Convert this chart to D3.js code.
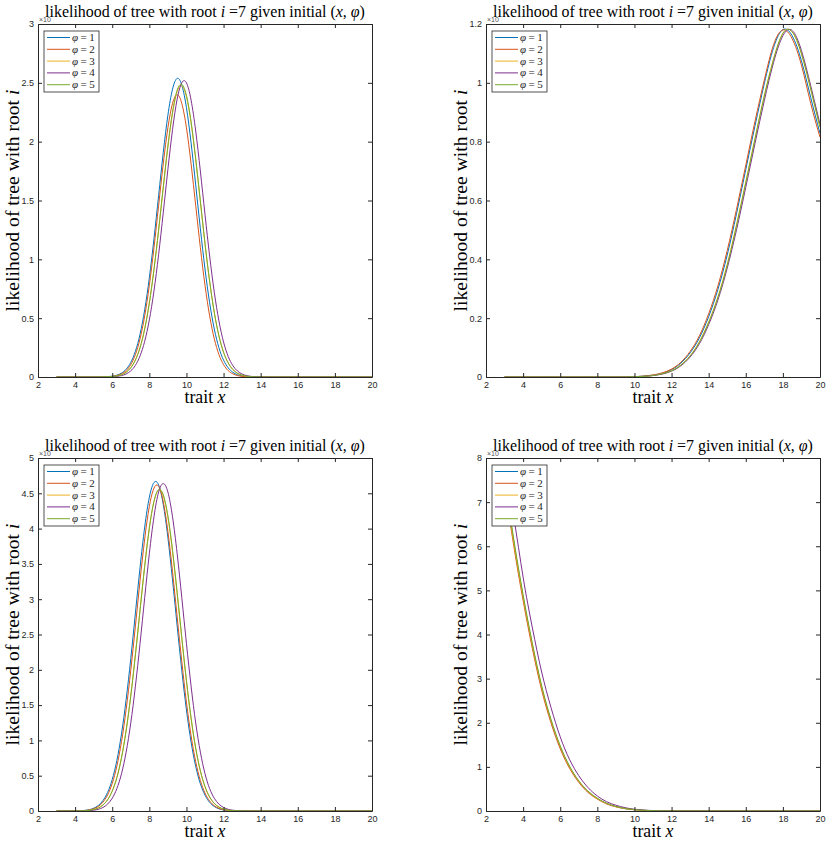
<!DOCTYPE html>
<html>
<head>
<meta charset="utf-8">
<script src="https://cdn.jsdelivr.net/npm/d3@7"></script>
<style>
  body { margin: 0; background: #fff; }
</style>
</head>
<body>
<div id="chart-container"></div>
<script>
// Shared x grid (trait x) for every curve
const xs = [3, 3.5, 4, 4.5, 5, 5.5, 6, 6.5, 7, 7.5, 8, 8.5, 9, 9.5, 10, 10.5, 11, 11.5,
    12, 12.5, 13, 13.5, 14, 14.5, 15, 15.5, 16, 16.5, 17, 17.5, 18, 18.5, 19, 19.5, 20];

const phiLabels = ["1", "2", "3", "4", "5"];
const colors = ["#0072BD", "#D95319", "#EDB120", "#7E2F8E", "#77AC30"];
const xTicks = [2, 4, 6, 8, 10, 12, 14, 16, 18, 20];

// Top-left panel
const tlPhi1 = [0, 0, 0, 0, 0, 0.001, 0.007, 0.033, 0.124, 0.364, 0.843, 1.541, 2.225, 2.538, 2.289, 1.631, 0.918, 0.408, 0.143, 0.040, 0.009, 0.002, 0, 0, 0, 0, 0, 0, 0, 0, 0, 0, 0, 0, 0];
const tlPhi2 = [0, 0, 0, 0, 0, 0.001, 0.005, 0.027, 0.105, 0.325, 0.779, 1.456, 2.118, 2.400, 2.118, 1.456, 0.779, 0.325, 0.105, 0.027, 0.005, 0.001, 0, 0, 0, 0, 0, 0, 0, 0, 0, 0, 0, 0, 0];
const tlPhi3 = [0, 0, 0, 0, 0, 0.001, 0.004, 0.020, 0.080, 0.252, 0.630, 1.248, 1.955, 2.425, 2.380, 1.845, 1.130, 0.548, 0.210, 0.064, 0.015, 0.003, 0, 0, 0, 0, 0, 0, 0, 0, 0, 0, 0, 0, 0];
const tlPhi4 = [0, 0, 0, 0, 0, 0, 0.002, 0.012, 0.052, 0.179, 0.485, 1.040, 1.764, 2.362, 2.500, 2.090, 1.381, 0.721, 0.297, 0.097, 0.025, 0.005, 0.001, 0, 0, 0, 0, 0, 0, 0, 0, 0, 0, 0, 0];
const tlPhi5 = [0, 0, 0, 0, 0, 0.001, 0.004, 0.019, 0.078, 0.249, 0.628, 1.249, 1.963, 2.438, 2.393, 1.855, 1.137, 0.550, 0.210, 0.064, 0.015, 0.003, 0, 0, 0, 0, 0, 0, 0, 0, 0, 0, 0, 0, 0];
const tlTicks = [0, 0.5, 1, 1.5, 2, 2.5, 3];

// Top-right panel
const trPhi1 = [0, 0, 0, 0, 0, 0, 0, 0, 0, 0, 0, 0, 0, 0, 0.001, 0.003, 0.006, 0.013, 0.025, 0.047, 0.082, 0.133, 0.205, 0.298, 0.415, 0.555, 0.705, 0.855, 0.998, 1.12, 1.181, 1.16, 1.075, 0.95, 0.828];
const trPhi2 = [0, 0, 0, 0, 0, 0, 0, 0, 0, 0, 0, 0, 0, 0, 0.001, 0.003, 0.007, 0.014, 0.027, 0.05, 0.087, 0.14, 0.215, 0.31, 0.43, 0.57, 0.72, 0.87, 1.01, 1.13, 1.18, 1.15, 1.06, 0.93, 0.815];
const trPhi3 = [0, 0, 0, 0, 0, 0, 0, 0, 0, 0, 0, 0, 0, 0, 0.001, 0.002, 0.005, 0.011, 0.021, 0.041, 0.072, 0.12, 0.187, 0.273, 0.383, 0.517, 0.663, 0.812, 0.957, 1.082, 1.169, 1.173, 1.098, 0.978, 0.848];
const trPhi4 = [0, 0, 0, 0, 0, 0, 0, 0, 0, 0, 0, 0, 0, 0, 0.001, 0.002, 0.005, 0.010, 0.020, 0.038, 0.068, 0.113, 0.178, 0.262, 0.37, 0.50, 0.645, 0.795, 0.94, 1.07, 1.16, 1.178, 1.11, 0.99, 0.86];
const trPhi5 = [0, 0, 0, 0, 0, 0, 0, 0, 0, 0, 0, 0, 0, 0, 0.001, 0.002, 0.005, 0.011, 0.021, 0.040, 0.071, 0.118, 0.185, 0.27, 0.38, 0.514, 0.66, 0.81, 0.955, 1.08, 1.168, 1.174, 1.10, 0.98, 0.85];
const trTicks = [0, 0.2, 0.4, 0.6, 0.8, 1, 1.2];

// Bottom-left panel
const blPhi1 = [0, 0, 0.001, 0.008, 0.039, 0.147, 0.445, 1.092, 2.160, 3.450, 4.444, 4.619, 3.874, 2.621, 1.431, 0.631, 0.224, 0.064, 0.015, 0.003, 0, 0, 0, 0, 0, 0, 0, 0, 0, 0, 0, 0, 0, 0, 0];
const blPhi2 = [0, 0, 0.001, 0.007, 0.032, 0.125, 0.390, 0.981, 1.993, 3.264, 4.313, 4.600, 3.958, 2.749, 1.540, 0.696, 0.254, 0.075, 0.018, 0.003, 0, 0, 0, 0, 0, 0, 0, 0, 0, 0, 0, 0, 0, 0, 0];
const blPhi3 = [0, 0, 0, 0.004, 0.021, 0.086, 0.285, 0.760, 1.640, 2.855, 4.010, 4.545, 4.160, 3.075, 1.833, 0.882, 0.343, 0.107, 0.027, 0.006, 0.001, 0, 0, 0, 0, 0, 0, 0, 0, 0, 0, 0, 0, 0, 0];
const blPhi4 = [0, 0, 0, 0.002, 0.011, 0.050, 0.181, 0.528, 1.247, 2.373, 3.645, 4.517, 4.517, 3.645, 2.373, 1.247, 0.528, 0.181, 0.050, 0.011, 0.002, 0, 0, 0, 0, 0, 0, 0, 0, 0, 0, 0, 0, 0, 0];
const blPhi5 = [0, 0, 0, 0.004, 0.020, 0.084, 0.280, 0.751, 1.626, 2.841, 4.005, 4.555, 4.181, 3.096, 1.849, 0.891, 0.347, 0.109, 0.028, 0.006, 0.001, 0, 0, 0, 0, 0, 0, 0, 0, 0, 0, 0, 0, 0, 0];
const blTicks = [0, 0.5, 1, 1.5, 2, 2.5, 3, 3.5, 4, 4.5, 5];

// Bottom-right panel
const brPhi1 = [7.5, 6.1, 4.85, 3.75, 2.8, 2.05, 1.45, 1.0, 0.67, 0.44, 0.28, 0.17, 0.1, 0.055, 0.03, 0.015, 0.007, 0.003, 0.001, 0, 0, 0, 0, 0, 0, 0, 0, 0, 0, 0, 0, 0, 0, 0, 0];
const brPhi2 = [7.4, 6.0, 4.77, 3.68, 2.74, 2.0, 1.41, 0.97, 0.65, 0.42, 0.27, 0.16, 0.095, 0.052, 0.028, 0.014, 0.006, 0.003, 0.001, 0, 0, 0, 0, 0, 0, 0, 0, 0, 0, 0, 0, 0, 0, 0, 0];
const brPhi3 = [7.5, 6.08, 4.85, 3.76, 2.81, 2.06, 1.46, 1.0, 0.675, 0.44, 0.28, 0.17, 0.1, 0.056, 0.03, 0.015, 0.007, 0.003, 0.001, 0, 0, 0, 0, 0, 0, 0, 0, 0, 0, 0, 0, 0, 0, 0, 0];
const brPhi4 = [7.8, 6.65, 5.3, 4.15, 3.15, 2.35, 1.68, 1.17, 0.8, 0.53, 0.34, 0.21, 0.13, 0.075, 0.04, 0.02, 0.01, 0.004, 0.002, 0, 0, 0, 0, 0, 0, 0, 0, 0, 0, 0, 0, 0, 0, 0, 0];
const brPhi5 = [7.55, 6.15, 4.9, 3.8, 2.84, 2.08, 1.48, 1.02, 0.685, 0.45, 0.29, 0.175, 0.103, 0.058, 0.031, 0.016, 0.007, 0.003, 0.001, 0, 0, 0, 0, 0, 0, 0, 0, 0, 0, 0, 0, 0, 0, 0, 0];
const brTicks = [0, 1, 2, 3, 4, 5, 6, 7, 8];

// Layout
const W = 831, H = 844;
const plotW = 334, plotH = 353;
const serif = "'Liberation Serif', 'DejaVu Serif', serif";
const sans = "'Liberation Sans', Arial, sans-serif";
const axisColor = "#262626";

const panels = [
    { left: 38, top: 24, ticks: tlTicks, series: [tlPhi1, tlPhi2, tlPhi3, tlPhi4, tlPhi5] },
    { left: 486, top: 24, ticks: trTicks, series: [trPhi1, trPhi2, trPhi3, trPhi4, trPhi5] },
    { left: 38, top: 458, ticks: blTicks, series: [blPhi1, blPhi2, blPhi3, blPhi4, blPhi5] },
    { left: 486, top: 458, ticks: brTicks, series: [brPhi1, brPhi2, brPhi3, brPhi4, brPhi5] },
];

// scale a text's font so that it spans the wanted width
function fitWidth(sel, size, target) {
    const len = sel.node().getComputedTextLength();
    if (len > 0) sel.attr("font-size", (size * target / len).toFixed(2) + "px");
}

const svg = d3
    .select("#chart-container")
    .append("svg")
    .attr("width", W)
    .attr("height", H);

panels.forEach((p, pi) => {
    const g = svg.append("g").attr("transform", `translate(${p.left},${p.top})`);

    const x = d3.scaleLinear().domain([2, 20]).range([0, plotW]);
    const y = d3.scaleLinear().domain([0, d3.max(p.ticks)]).range([plotH, 0]);

    // clip for curves leaving the box
    g.append("clipPath")
        .attr("id", "clip" + pi)
        .append("rect")
        .attr("width", plotW)
        .attr("height", plotH);

    const line = d3
        .line()
        .x((d, i) => x(xs[i]))
        .y((d) => y(d))
        .curve(d3.curveNatural);

    g.append("g")
        .attr("clip-path", `url(#clip${pi})`)
        .selectAll("path")
        .data(p.series)
        .enter()
        .append("path")
        .attr("d", line)
        .attr("fill", "none")
        .attr("stroke", (d, i) => colors[i])
        .attr("stroke-width", 1);

    // axes, ticks pointing inwards
    const styleAxis = (sel) => {
        sel.select(".domain").attr("stroke", axisColor).attr("stroke-width", 1);
        sel.selectAll(".tick line").attr("stroke", axisColor);
        sel.selectAll("text")
            .attr("fill", axisColor)
            .attr("font-family", sans)
            .attr("font-size", "9px");
    };

    g.append("g")
        .attr("transform", `translate(0,${plotH})`)
        .call(d3.axisBottom(x).tickValues(xTicks).tickSizeInner(-4).tickSizeOuter(0).tickPadding(5))
        .call(styleAxis);
    g.append("g")
        .call(d3.axisTop(x).tickValues(xTicks).tickSizeInner(-4).tickSizeOuter(0).tickFormat(""))
        .call(styleAxis);
    g.append("g")
        .call(d3.axisLeft(y).tickValues(p.ticks).tickSizeInner(-4).tickSizeOuter(0).tickPadding(4).tickFormat(d3.format("~g")))
        .call(styleAxis);
    g.append("g")
        .attr("transform", `translate(${plotW},0)`)
        .call(d3.axisRight(y).tickValues(p.ticks).tickSizeInner(-4).tickSizeOuter(0).tickFormat(""))
        .call(styleAxis);

    // exponent marker
    g.append("text")
        .attr("x", 1)
        .attr("y", -2)
        .attr("font-family", sans)
        .attr("font-size", "7px")
        .attr("fill", "#555")
        .text("×10");

    // title
    const title = g.append("text")
        .attr("x", plotW / 2)
        .attr("y", -7)
        .attr("text-anchor", "middle")
        .attr("font-family", serif)
        .attr("font-size", "16px")
        .attr("fill", "#000");
    title.append("tspan").text("likelihood of tree with root ");
    title.append("tspan").attr("font-style", "italic").text("i");
    title.append("tspan").text(" =7 given initial (");
    title.append("tspan").attr("font-style", "italic").text("x");
    title.append("tspan").text(", ");
    title.append("tspan").attr("font-style", "italic").text("φ");
    title.append("tspan").text(")");
    fitWidth(title, 16, 320);

    // x label
    const xl = g.append("text")
        .attr("x", plotW / 2)
        .attr("y", plotH + 26)
        .attr("text-anchor", "middle")
        .attr("font-family", serif)
        .attr("font-size", "18px")
        .attr("fill", "#000");
    xl.append("tspan").text("trait ");
    xl.append("tspan").attr("font-style", "italic").text("x");
    fitWidth(xl, 18, 41);

    // y label
    const yl = g.append("text")
        .attr("transform", `translate(-19,${plotH / 2}) rotate(-90)`)
        .attr("text-anchor", "middle")
        .attr("font-family", serif)
        .attr("font-size", "19px")
        .attr("fill", "#000");
    yl.append("tspan").text("likelihood of tree with root ");
    yl.append("tspan").attr("font-style", "italic").text("i");
    fitWidth(yl, 19, 222);

    // legend
    const lg = g.append("g").attr("transform", "translate(6,7)");
    lg.append("rect")
        .attr("width", 55)
        .attr("height", 61)
        .attr("fill", "#fff")
        .attr("stroke", axisColor)
        .attr("stroke-width", 0.8);
    const rows = lg.selectAll("g.row")
        .data(phiLabels)
        .enter()
        .append("g")
        .attr("class", "row")
        .attr("transform", (d, i) => `translate(0,${6.5 + i * 11.8})`);
    rows.append("line")
        .attr("x1", 3)
        .attr("x2", 26)
        .attr("stroke", (d, i) => colors[i])
        .attr("stroke-width", 1);
    const lt = rows.append("text")
        .attr("x", 28)
        .attr("y", 3.5)
        .attr("font-family", serif)
        .attr("font-size", "11px")
        .attr("fill", axisColor);
    lt.append("tspan").attr("font-style", "italic").text("φ");
    lt.append("tspan").attr("dx", 2.5).text("=");
    lt.append("tspan").attr("dx", 2.5).text((d) => d);
});
</script>
</body>
</html>
